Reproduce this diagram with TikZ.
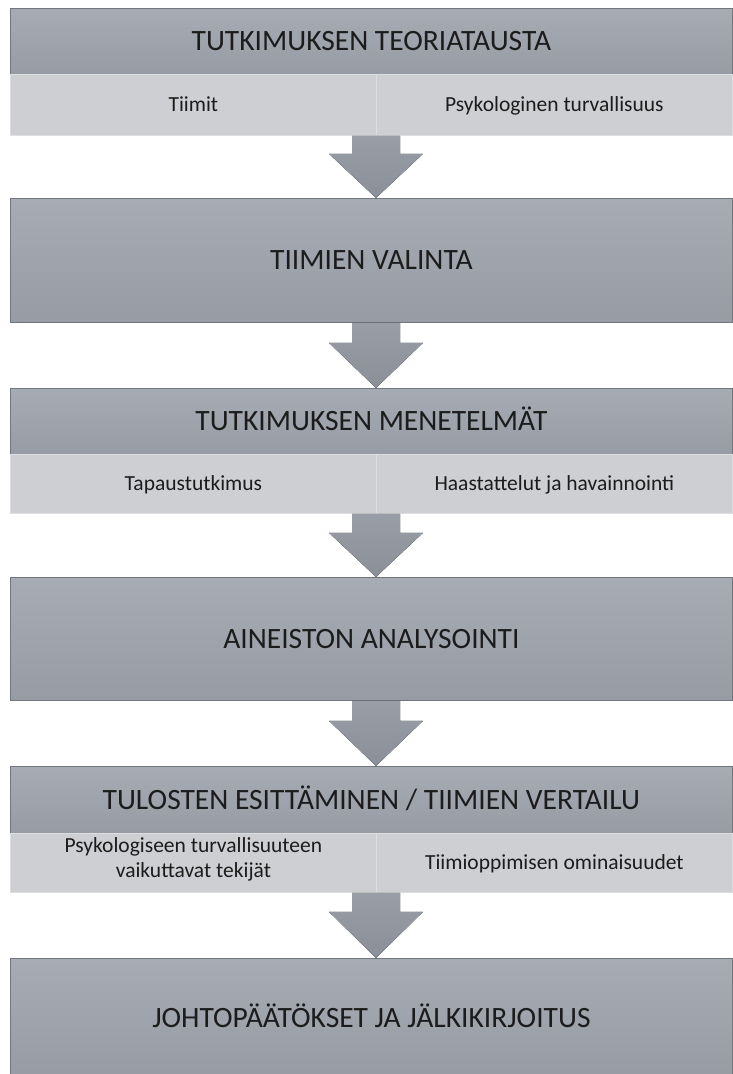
\documentclass[tikz,border=0pt]{standalone}
\usepackage{fontspec}
\setmainfont{Carlito}
\usetikzlibrary{calc}
\definecolor{hdtop}{HTML}{A7ABB4}
\definecolor{hdbot}{HTML}{969BA4}
\definecolor{subfill}{HTML}{CDCFD2}
\definecolor{subline}{HTML}{DDDEE0}
\definecolor{hdline}{HTML}{72767D}
\definecolor{arrtop}{HTML}{989DA6}
\definecolor{arrbot}{HTML}{8A8F98}
\definecolor{txt}{HTML}{1C1C1C}
\tikzset{
  hdbox/.style={rectangle, anchor=north west, inner sep=0pt, minimum width=722pt,
    top color=hdtop, bottom color=hdbot, draw=hdline, line width=0.8pt,
    font=\fontsize{29.5}{33}\selectfont, text=txt, text height=19pt, text depth=0pt},
  subcell/.style={rectangle, anchor=north west, inner sep=0pt, minimum height=61pt,
    fill=subfill, draw=subline, line width=0.8pt,
    font=\fontsize{21.5}{25}\selectfont, text=txt, align=center, text height=14pt, text depth=0pt},
  blockarr/.style={top color=arrtop, bottom color=arrbot, draw=none}
}
\begin{document}
\begin{tikzpicture}[x=1pt,y=-1pt]
\useasboundingbox (0,0) rectangle (732,1074);
\fill[white] (0,0) rectangle (732,1074);
\coordinate (ax) at (376,0);
% Box 1
\node[hdbox, minimum height=66pt] (h1) at (10,8) {TUTKIMUKSEN TEORIATAUSTA};
\node[subcell, minimum width=366pt] (s1a) at (10,74) {Tiimit};
\node[subcell, minimum width=356pt] (s1b) at (376,74) {Psykologinen turvallisuus};
% Box 2
\node[hdbox, minimum height=124pt] (h2) at (10,198) {TIIMIEN VALINTA};
% Box 3
\node[hdbox, minimum height=66pt] (h3) at (10,388) {TUTKIMUKSEN MENETELMÄT};
\node[subcell, minimum width=366pt, minimum height=59pt] (s3a) at (10,454) {Tapaustutkimus};
\node[subcell, minimum width=356pt, minimum height=59pt] (s3b) at (376,454) {Haastattelut ja havainnointi};
% Box 4
\node[hdbox, minimum height=123pt] (h4) at (10,577) {AINEISTON ANALYSOINTI};
% Box 5
\node[hdbox, minimum height=67pt] (h5) at (10,766) {TULOSTEN ESITTÄMINEN / TIIMIEN VERTAILU};
\node[subcell, minimum width=366pt, minimum height=59pt] (s5a) at (10,833) {};
\node[anchor=north, inner sep=0pt, font=\fontsize{21.5}{25}\selectfont, text=txt, align=center] (t5a) at ($(s5a.north)+(0,4)$) {Psykologiseen turvallisuuteen\\vaikuttavat tekijät};
\node[subcell, minimum width=356pt, minimum height=59pt] (s5b) at (376,833) {Tiimioppimisen ominaisuudet};
% Box 6
\node[hdbox, minimum height=120pt] (h6) at (10,958) {JOHTOPÄÄTÖKSET JA JÄLKIKIRJOITUS};
% Arrows
\foreach \a/\b/\s in {s1a/h2/18, h2/h3/20, s3a/h4/19, h4/h5/20, s5a/h6/19}{
  \fill[blockarr] ($(ax|-\a.south)+(-24,0)$) -- ($(ax|-\a.south)+(24,0)$)
    -- ($(ax|-\a.south)+(24,\s)$) -- ($(ax|-\a.south)+(47,\s)$)
    -- (ax|-\b.north)
    -- ($(ax|-\a.south)+(-47,\s)$) -- ($(ax|-\a.south)+(-24,\s)$) -- cycle;
}
\end{tikzpicture}
\end{document}
